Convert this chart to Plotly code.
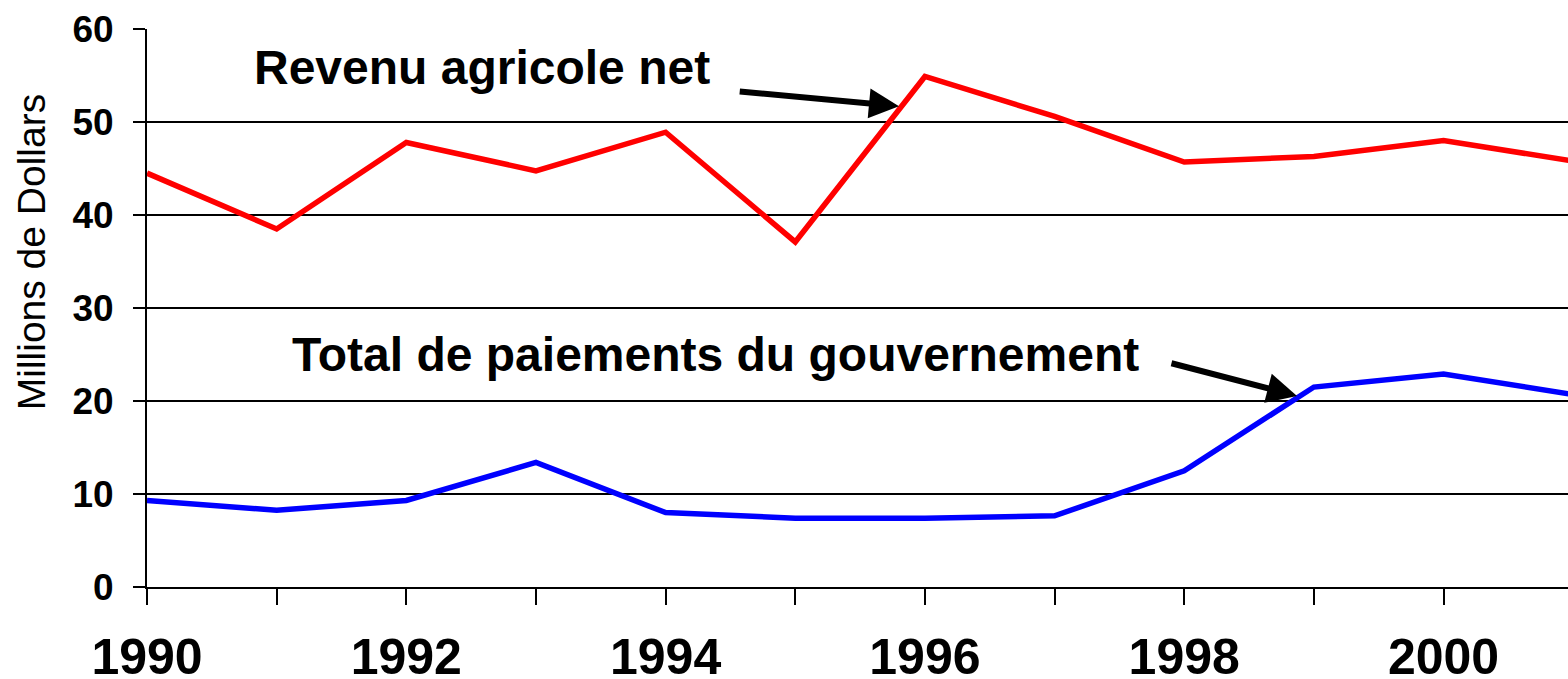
import plotly.graph_objects as go

years = [1990, 1991, 1992, 1993, 1994, 1995, 1996, 1997, 1998, 1999, 2000, 2001]
revenu_net = [44.5, 38.5, 47.8, 44.75, 48.9, 37.1, 54.9, 50.6, 45.7, 46.3, 48.0, 45.8]
paiements_gouv = [9.3, 8.25, 9.3, 13.4, 8.0, 7.4, 7.4, 7.65, 12.5, 21.5, 22.9, 20.7]

y_ticks = [0, 10, 20, 30, 40, 50, 60]

FONT = "Liberation Sans, Arial, sans-serif"

fig = go.Figure()
fig.add_trace(go.Scatter(x=years, y=revenu_net, mode="lines",
                         line=dict(color="#FF0000", width=5.5), name="Revenu agricole net"))
fig.add_trace(go.Scatter(x=years, y=paiements_gouv, mode="lines",
                         line=dict(color="#0000FF", width=5.5), name="Total de paiements du gouvernement"))

# Text labels
fig.add_annotation(x=1990.81, y=55.9, xref="x", yref="y", text="Revenu agricole net",
                   showarrow=False, xanchor="left", yanchor="middle",
                   font=dict(family=FONT, size=48, color="black", weight="bold"))
fig.add_annotation(x=1991.105, y=25.05, xref="x", yref="y", text="Total de paiements du gouvernement",
                   showarrow=False, xanchor="left", yanchor="middle",
                   font=dict(family=FONT, size=48, color="black", weight="bold"))

# Arrows
fig.add_annotation(x=1995.80, y=51.7, ax=1994.56, ay=53.3, xref="x", yref="y",
                   axref="x", ayref="y", text="", showarrow=True,
                   arrowhead=2, arrowsize=1.0, arrowwidth=6, arrowcolor="black")
fig.add_annotation(x=1998.87, y=20.55, ax=1997.89, ay=24.1, xref="x", yref="y",
                   axref="x", ayref="y", text="", showarrow=True,
                   arrowhead=2, arrowsize=1.0, arrowwidth=6, arrowcolor="black")

# Y-axis title (placed above the plot's vertical centre, as in the original)
fig.add_annotation(x=-0.0816, y=0.60, xref="paper", yref="paper", text="Millions de Dollars",
                   textangle=-90, showarrow=False, xanchor="center", yanchor="middle",
                   font=dict(family=FONT, size=39, color="black"))

fig.update_layout(
    width=1568, height=679,
    margin=dict(l=147, r=0, t=29, b=92, autoexpand=False),
    paper_bgcolor="white", plot_bgcolor="white",
    showlegend=False,
    font=dict(family=FONT, color="black"),
)
fig.update_xaxes(
    automargin=False,
    range=[1990, 2000.96], tick0=1990, dtick=2,
    showgrid=False, zeroline=False,
    showline=True, linecolor="black", linewidth=2,
    ticks="outside", ticklen=16, tickwidth=2, tickcolor="black",
    minor=dict(dtick=1, tick0=1990, ticks="outside", ticklen=16, tickwidth=2, tickcolor="black", showgrid=False),
    tickfont=dict(family=FONT, size=50, color="black", weight="bold"),
    ticklabelstandoff=9,
)
fig.update_yaxes(
    automargin=False,
    range=[0, 60], tickvals=y_ticks,
    showgrid=True, gridcolor="black", gridwidth=2,
    zeroline=False,
    showline=True, linecolor="black", linewidth=2,
    ticks="outside", ticklen=12, tickwidth=2, tickcolor="black",
    tickfont=dict(family=FONT, size=37, color="black", weight="bold"),
    ticklabelstandoff=12,
)

fig.write_html("out.html",
               config={"displayModeBar": False},
               post_script="document.body.style.margin='0';document.body.style.overflow='hidden';")
